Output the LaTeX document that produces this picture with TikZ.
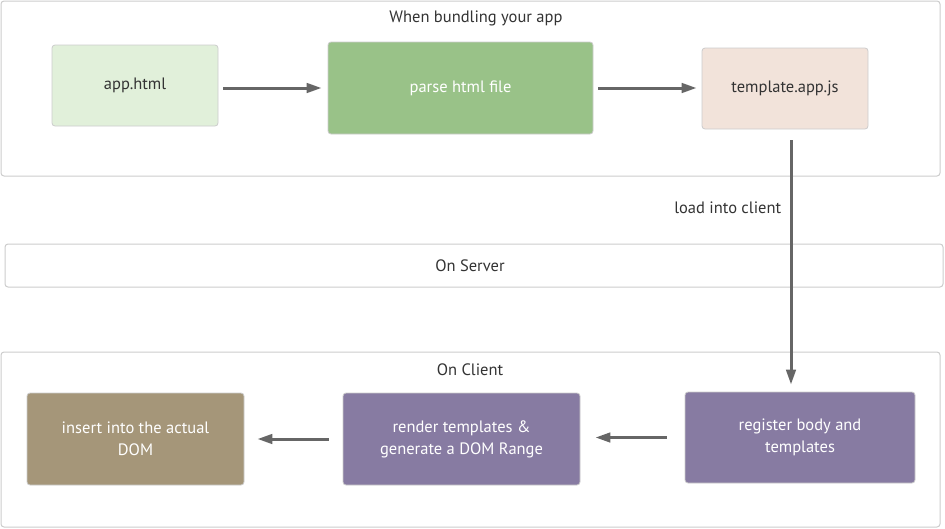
\documentclass[tikz,border=0pt]{standalone}
\usepackage{fontspec}
\setmainfont{PT Sans}
\usetikzlibrary{arrows.meta}
\definecolor{framegray}{HTML}{CCCCCC}
\definecolor{arrowgray}{HTML}{666666}
\definecolor{textgray}{HTML}{333333}
\definecolor{srcgreen}{HTML}{E1F0DA}
\definecolor{parsegreen}{HTML}{99C288}
\definecolor{jspeach}{HTML}{F2E3DA}
\definecolor{clientpurple}{HTML}{877BA2}
\definecolor{domkhaki}{HTML}{A59679}

\begin{document}
\begin{tikzpicture}[x=1pt, y=-1pt, font=\fontsize{16.5}{22}\selectfont, >={Triangle[length=15pt,width=9.5pt]}]
  \tikzstyle{frame} = [draw=framegray, line width=1pt, rounded corners=3pt]
  \tikzstyle{block} = [draw=framegray, line width=0.8pt, rounded corners=3pt, align=center, text=textgray]
  \tikzstyle{dark} = [block, text=white]
  \tikzstyle{link} = [->, draw=arrowgray, line width=3pt]
  \useasboundingbox (0,0) rectangle (945,528);

  \draw [frame] (1,1) rectangle (940,176);
  \draw [frame] (5,244) rectangle (943,287);
  \draw [frame] (1,352) rectangle (940,527);
  \node [text=textgray] (bundling) at (476,18) {When bundling your app};
  \node [text=textgray] (server) at (470,266) {On Server};
  \node [text=textgray] (client) at (470,370) {On Client};

  \node [block, fill=srcgreen, minimum width=166pt, minimum height=81pt] (apphtml) at (135,85.5) {app.html};
  \node [dark, fill=parsegreen, minimum width=265pt, minimum height=92pt] (parse) at (460.5,88) {parse html file};
  \node [block, fill=jspeach, minimum width=166pt, minimum height=81pt] (template) at (785,88.5) {template.app.js};

  \node [dark, fill=clientpurple, minimum width=230pt, minimum height=91pt] (register) at (800,437.5) {register body and\\templates};
  \node [dark, fill=clientpurple, minimum width=237pt, minimum height=92pt] (render) at (461.5,439) {render templates \&\\generate a DOM Range};
  \node [dark, fill=domkhaki, minimum width=217pt, minimum height=92pt] (insert) at (135.5,439) {insert into the actual\\DOM};

  \draw [link, shorten <=5pt, shorten >=6pt] (apphtml.east |- parse) -- (parse.west);
  \draw [link, shorten <=5pt, shorten >=5pt] (parse.east) -- (template.west |- parse);
  \draw [link, shorten <=11pt, shorten >=7pt] ([xshift=6pt]template.south) -- node [pos=0.3, left, xshift=-5pt, text=textgray] {load into client} ([xshift=6pt]template.south |- register.north);
  \draw [link, shorten <=18pt, shorten >=15pt] (register.west) -- (render.east |- register.west);
  \draw [link, shorten <=14pt, shorten >=13pt] (render.west) -- (insert.east);
\end{tikzpicture}
\end{document}
